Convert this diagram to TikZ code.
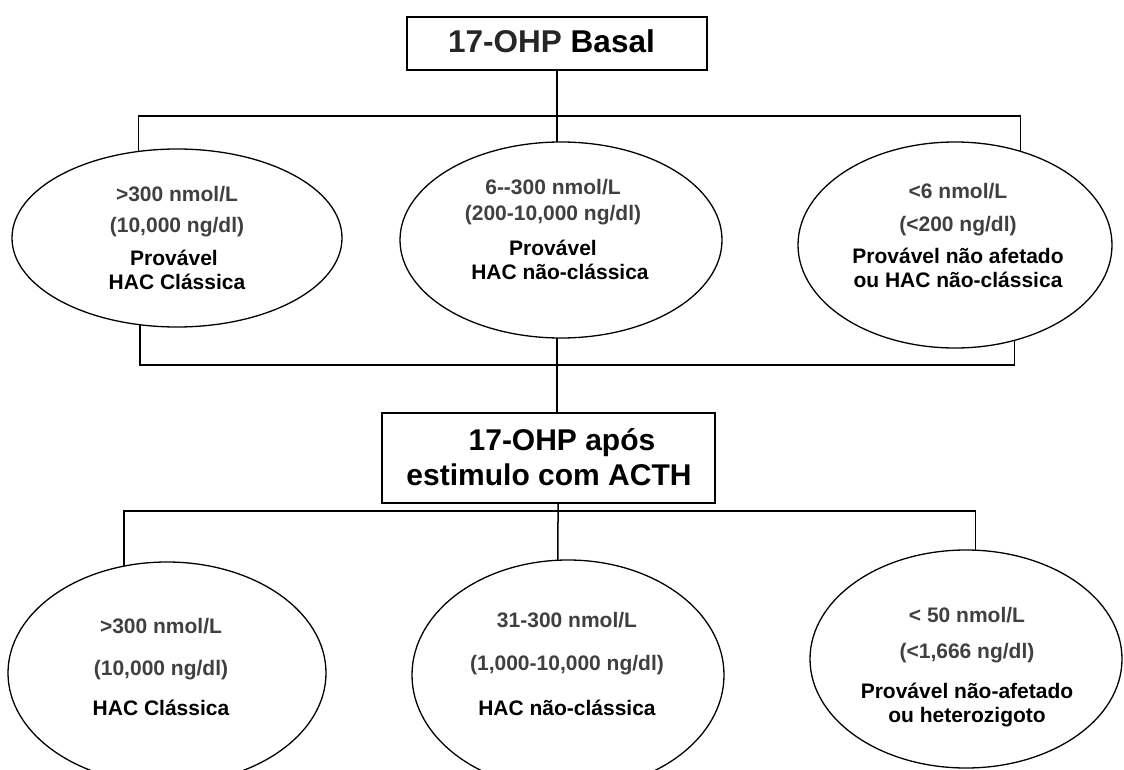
\documentclass[tikz,border=0pt]{standalone}
\usepackage{fontspec}
\setmainfont{Liberation Sans}
\usetikzlibrary{shapes.geometric}
\tikzset{
  conn/.style={draw=black, line width=1.5pt},
  boxnode/.style={draw=black, line width=1.7pt, rectangle, inner sep=0pt, outer sep=0pt},
  ellnode/.style={draw=black, line width=1.3pt, ellipse, inner sep=0pt, outer sep=0pt},
  bigtxt/.style={anchor=base, inner sep=0pt, font=\bfseries\fontsize{30}{36}\selectfont},
  etxt/.style={anchor=base, inner sep=0pt, font=\bfseries\fontsize{21}{24}\selectfont, text=black},
  gtxt/.style={etxt, text=black!75},
}
\begin{document}
\begin{tikzpicture}[x=1pt,y=-1pt]
\useasboundingbox (0,0) rectangle (1124,770);
\clip (0,0) rectangle (1124,770);
% boxes
\node[boxnode, minimum width=300pt, minimum height=53pt] (b1) at (557,43.5) {};
\node[bigtxt, font=\bfseries\fontsize{31.5}{36}\selectfont] (b1t) at (551.5,53) {\textcolor{black!85}{17-OHP} Basal};
\node[boxnode, minimum width=333pt, minimum height=90pt] (b2) at (548.5,458) {};
\node[bigtxt] (b2t1) at (562,450) {17-OHP após};
\node[bigtxt] (b2t2) at (549,485) {estimulo com ACTH};
% ellipses, upper row
\node[ellnode, minimum width=330pt, minimum height=178pt] (e1) at (177,238) {};
\node[ellnode, minimum width=322pt, minimum height=196pt] (e2) at (561,240) {};
\node[ellnode, minimum width=314pt, minimum height=206pt] (e3) at (955,245) {};
% ellipses, lower row
\node[ellnode, minimum width=318pt, minimum height=222pt] (e4) at (167,673) {};
\node[ellnode, minimum width=312pt, minimum height=230pt] (e5) at (568,675) {};
\node[ellnode, minimum width=312pt, minimum height=218pt] (e6) at (966,659) {};
% texts upper
\node[gtxt] (e1a) at (177,201) {>300 nmol/L};
\node[gtxt] (e1b) at (177,233) {(10,000 ng/dl)};
\node[etxt] (e1c) at (174,265) {Provável};
\node[etxt] (e1d) at (177,289) {HAC Clássica};
\node[gtxt] (e2a) at (553,195) {6-{}-300 nmol/L};
\node[gtxt] (e2b) at (553,220) {(200-10,000 ng/dl)};
\node[etxt] (e2c) at (553,255) {Provável};
\node[etxt] (e2d) at (560,279) {HAC não-clássica};
\node[gtxt] (e3a) at (958,199) {<6 nmol/L};
\node[gtxt] (e3b) at (958,232) {(<200 ng/dl)};
\node[etxt] (e3c) at (958,263) {Provável não afetado};
\node[etxt] (e3d) at (958,287) {ou HAC não-clássica};
% texts lower
\node[gtxt] (e4a) at (161,633) {>300 nmol/L};
\node[gtxt] (e4b) at (161,675) {(10,000 ng/dl)};
\node[etxt] (e4c) at (161,715) {HAC Clássica};
\node[gtxt] (e5a) at (567,627) {31-300 nmol/L};
\node[gtxt] (e5b) at (567,670) {(1,000-10,000 ng/dl)};
\node[etxt] (e5c) at (567,715) {HAC não-clássica};
\node[gtxt] (e6a) at (967,622) {< 50 nmol/L};
\node[gtxt] (e6b) at (967,658) {(<1,666 ng/dl)};
\node[etxt] (e6c) at (967,698) {Provável não-afetado};
\node[etxt] (e6d) at (967,722) {ou heterozigoto};
% connectors
\coordinate (t1) at (557,116);
\coordinate (m1) at (557,365);
\coordinate (m2) at (558,511);
\draw[conn] (b1.south -| t1) -- (t1);
\draw[conn] (e1.114) |- (t1) -| (e3.55);
\draw[conn] (t1) -- (e2.north -| t1);
\draw[conn] (e1.247) |- (m1) -| (e3.-58);
\draw[conn] (e2.south -| m1) -- (m1) -- (m1 |- b2.north);
\draw[conn] (b2.south -| m2) -- (m2) -- (e5.95);
\draw[conn] (e4.112) |- (m2) -| (e6.85);
\end{tikzpicture}
\end{document}
